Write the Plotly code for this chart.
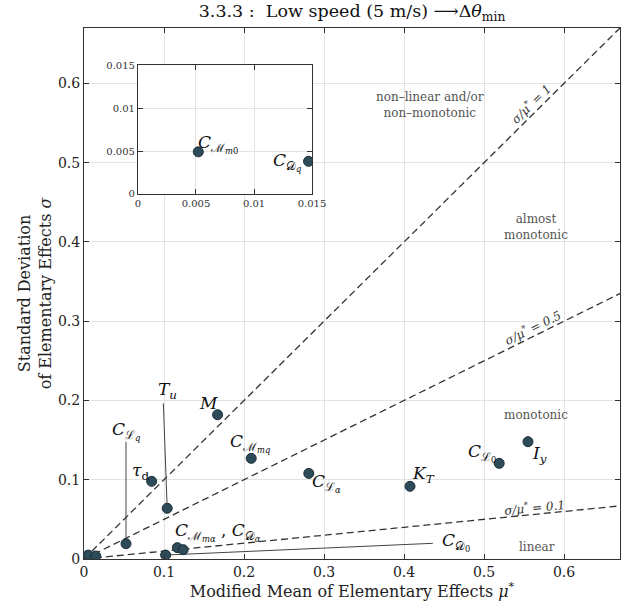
import plotly.graph_objects as go

# ---- data ----
params = ["C_Mm0", "C_Dq", "C_Lq", "T_u", "tau_d", "M", "C_Mmq", "C_La",
          "C_Mma", "C_Da", "C_D0", "K_T", "C_L0", "I_y"]
mu_star = [0.0052, 0.0147, 0.0525, 0.104, 0.0846, 0.167, 0.209, 0.281,
           0.1167, 0.124, 0.102, 0.4075, 0.519, 0.555]
sigma = [0.0049, 0.0038, 0.0193, 0.064, 0.098, 0.182, 0.127, 0.108,
         0.0143, 0.0118, 0.005, 0.0917, 0.1207, 0.148]
inset_params = ["C_Mm0", "C_Dq"]
ratios = [1, 0.5, 0.1]
ratio_labels = ["σ/μ<sup>*</sup> = 1", "σ/μ<sup>*</sup> = 0.5", "σ/μ<sup>*</sup> = 0.1"]
main_ticks = [0, 0.1, 0.2, 0.3, 0.4, 0.5, 0.6]
main_ticktext = ["0", "0.1", "0.2", "0.3", "0.4", "0.5", "0.6"]
inset_ticks = [0, 0.005, 0.01, 0.015]
inset_ticktext = ["0", "0.005", "0.01", "0.015"]

SERIF = "'DejaVu Serif', serif"
MARK = "#2d4b59"
GRAY = "#555555"

# label text and placement (data coordinates)
labels = {
    "C_Lq": ("<i>C</i><sub>ℒ<sub><i>q</i></sub></sub>", 0.0525, 0.161),
    "T_u": ("<i>T<sub>u</sub></i>", 0.104, 0.213),
    "tau_d": ("<i>τ</i><sub>d</sub>", 0.071, 0.110),
    "M": ("<i>M</i>", 0.155, 0.197),
    "C_Mmq": ("<i>C</i><sub>ℳ<sub><i>mq</i></sub></sub>", 0.2075, 0.146),
    "C_La": ("<i>C</i><sub>ℒ<sub><i>α</i></sub></sub>", 0.3025, 0.096),
    "C_Mma": ("<i>C</i><sub>ℳ<sub><i>mα</i></sub></sub> , <i>C</i><sub>𝒟<sub><i>α</i></sub></sub>", 0.168, 0.034),
    "C_D0": ("<i>C</i><sub>𝒟<sub>0</sub></sub>", 0.465, 0.0214),
    "K_T": ("<i>K<sub>T</sub></i>", 0.424, 0.106),
    "C_L0": ("<i>C</i><sub>ℒ<sub>0</sub></sub>", 0.4975, 0.134),
    "I_y": ("<i>I<sub>y</sub></i>", 0.569, 0.132),
}
inset_labels = {
    "C_Mm0": ("<i>C</i><sub>ℳ<sub><i>m</i>0</sub></sub>", 0.0069, 0.0058),
    "C_Dq": ("<i>C</i><sub>𝒟<sub><i>q</i></sub></sub>", 0.01285, 0.0037),
}
# leader lines: param -> label end point
leaders = {
    "C_Lq": (0.0525, 0.148),
    "T_u": (0.0992, 0.1963),
    "C_D0": (0.436, 0.0198),
}

fig = go.Figure()

xr = [0, 0.7]
for r in ratios:
    fig.add_trace(go.Scatter(x=xr, y=[r * v for v in xr], mode="lines",
                             line=dict(color="#333333", width=1.3, dash="7px,4px"),
                             hoverinfo="skip", showlegend=False))

idx = {p: i for i, p in enumerate(params)}
for p, (lx, ly) in leaders.items():
    i = idx[p]
    fig.add_trace(go.Scatter(x=[mu_star[i], lx], y=[sigma[i], ly], mode="lines",
                             line=dict(color="#444444", width=1),
                             hoverinfo="skip", showlegend=False))

fig.add_trace(go.Scatter(x=mu_star, y=sigma, mode="markers", text=params,
                         marker=dict(size=10, color=MARK, line=dict(color="#1b2d36", width=1)),
                         showlegend=False))

ins_x = [mu_star[idx[p]] for p in inset_params]
ins_y = [sigma[idx[p]] for p in inset_params]
fig.add_trace(go.Scatter(x=ins_x, y=ins_y, mode="markers", xaxis="x2", yaxis="y2",
                         marker=dict(size=10, color=MARK, line=dict(color="#1b2d36", width=1)),
                         showlegend=False))

ann = []
for p, (t, x, y) in labels.items():
    ann.append(dict(x=x, y=y, xref="x", yref="y", text=t, showarrow=False,
                    font=dict(family=SERIF, size=17, color="#111111")))
for p, (t, x, y) in inset_labels.items():
    ann.append(dict(x=x, y=y, xref="x2", yref="y2", text=t, showarrow=False,
                    font=dict(family=SERIF, size=17, color="#111111")))

ratio_pos = [(0.559, 0.575, -44.7), (0.561, 0.293, -26.4), (0.5625, 0.0656, -5.7)]
for t, (x, y, a) in zip(ratio_labels, ratio_pos):
    ann.append(dict(x=x, y=y, xref="x", yref="y", text="<i>" + t + "</i>", showarrow=False,
                    textangle=a, font=dict(family=SERIF, size=12, color="#333333")))

regions = [("non–linear and/or<br>non–monotonic", 0.4325, 0.5725),
           ("almost<br>monotonic", 0.565, 0.419),
           ("monotonic", 0.565, 0.1816),
           ("linear", 0.566, 0.015)]
for t, x, y in regions:
    ann.append(dict(x=x, y=y, xref="x", yref="y", text=t, showarrow=False,
                    font=dict(family=SERIF, size=12, color=GRAY)))

axis_common = dict(showline=True, linecolor="#333333", linewidth=1, mirror="ticks",
                   ticks="inside", ticklen=5, tickcolor="#333333", automargin=False,
                   showgrid=True, gridcolor="#e3e3e3", gridwidth=1, zeroline=False)

fig.update_layout(
    width=624, height=609,
    margin=dict(l=84, r=4, t=28, b=50, autoexpand=False),
    paper_bgcolor="white", plot_bgcolor="white",
    font=dict(family=SERIF),
    title=dict(text="3.3.3 :  Low speed (5 m/s) ⟶Δ<i>θ</i><sub>min</sub>",
               x=0.5641, xanchor="center", y=0.982, yanchor="middle",
               font=dict(family=SERIF, size=17.5, color="#111111")),
    xaxis=dict(range=[0, 0.67], tickvals=main_ticks, ticktext=main_ticktext,
               title=dict(text="Modified Mean of Elementary Effects <i>μ</i><sup>*</sup>",
                          font=dict(family=SERIF, size=16, color="#222222"), standoff=6),
               tickfont=dict(family=SERIF, size=14, color="#222222"), **axis_common),
    yaxis=dict(range=[0, 0.67], tickvals=main_ticks, ticktext=main_ticktext,
               title=dict(text="Standard Deviation<br>of Elementary Effects <i>σ</i>",
                          font=dict(family=SERIF, size=16, color="#222222"), standoff=2),
               tickfont=dict(family=SERIF, size=14, color="#222222"), **axis_common),
    xaxis2=dict(domain=[0.1007, 0.4254], anchor="y2", range=[0, 0.015],
                tickvals=inset_ticks, ticktext=inset_ticktext,
                tickfont=dict(family=SERIF, size=10, color="#333333"), **axis_common),
    yaxis2=dict(domain=[0.6874, 0.9303], anchor="x2", range=[0, 0.015],
                tickvals=inset_ticks, ticktext=inset_ticktext,
                tickfont=dict(family=SERIF, size=10, color="#333333"), **axis_common),
    annotations=ann,
    shapes=[dict(type="rect", xref="x2", yref="y2", x0=0, x1=0.015, y0=0, y1=0.015,
                 fillcolor="white", line=dict(width=0), layer="below")],
)

fig.write_html("out.html")
